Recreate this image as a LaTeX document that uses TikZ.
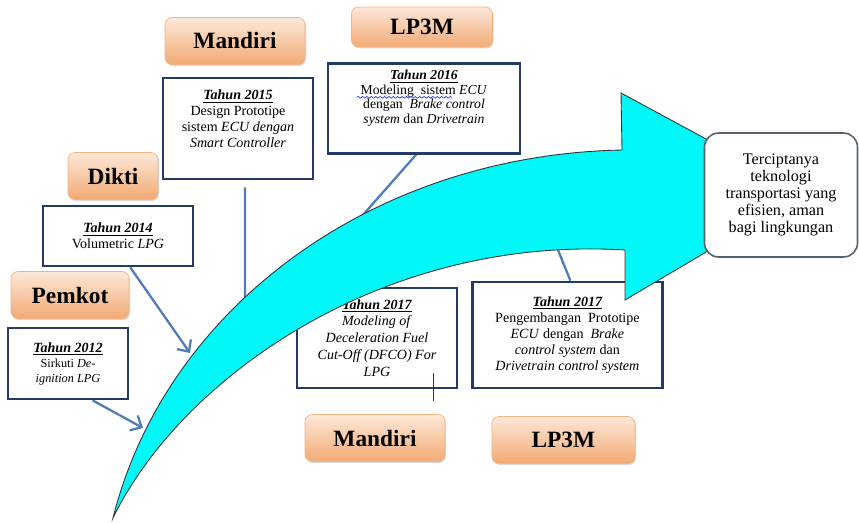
\documentclass[tikz,border=0pt]{standalone}
\usepackage{fontspec}
\setmainfont{Liberation Serif}
\usepackage{tikz}
\usetikzlibrary{positioning, calc, backgrounds, shadows, arrows.meta, decorations.pathmorphing}
\definecolor{lbl-top}{RGB}{253,232,216}
\definecolor{lbl-bot}{RGB}{242,170,116}
\definecolor{box-blue}{RGB}{36,58,104}
\definecolor{link-blue}{RGB}{79,125,185}
\definecolor{flow-cyan}{RGB}{0,248,248}
\definecolor{goal-gray}{RGB}{88,98,110}

\newcommand{\tahun}[1]{\textbf{\textit{\underline{Tahun #1}}}}

\begin{document}
\begin{tikzpicture}[
    x=0.02cm, y=-0.02cm,
    lbl/.style={rectangle, rounded corners=4pt, minimum width=2.8cm, minimum height=0.94cm, top color=lbl-top, bottom color=lbl-bot, draw=lbl-bot!90, font=\fontsize{13.3}{15}\selectfont\bfseries, drop shadow={shadow xshift=0.6pt, shadow yshift=-0.8pt, opacity=0.3}},
    yearbox/.style={rectangle, draw=box-blue, line width=1.4pt, fill=white, align=center, inner sep=2pt, font=\fontsize{8}{9.2}\selectfont},
    goal/.style={rectangle, draw=goal-gray, line width=0.9pt, rounded corners=8pt, fill=white, align=center, font=\fontsize{9.2}{9.6}\selectfont},
    link/.style={draw=link-blue, line width=1.3pt},
    flow/.style={fill=flow-cyan, draw=black!80, line width=0.5pt},
]
\useasboundingbox (0,0) rectangle (859,522);

% Sponsors and years, left part
\node[lbl, minimum width=2.36cm] (pemkot) at (70,295) {Pemkot};
\node[yearbox, minimum width=2.4cm, minimum height=1.42cm, below=0.16cm of pemkot, xshift=-0.04cm, font=\fontsize{7}{8.6}\selectfont] (d12) {{\fontsize{8}{9}\selectfont\tahun{2012}}\\ Sirkuti \textit{De-}\\ \textit{ignition LPG}};

\node[lbl, minimum width=1.8cm] (dikti) at (113,176) {Dikti};
\node[yearbox, minimum width=3cm, minimum height=1.2cm, below=0.1cm of dikti, xshift=0.1cm] (d14) {\tahun{2014}\\ Volumetric \textit{LPG}};

\node[lbl] (mandiriA) at (235,41) {Mandiri};
\node[yearbox, minimum width=3cm, minimum height=2.02cm, below=0.24cm of mandiriA, xshift=0.06cm] (d15) {\tahun{2015}\\ Design Prototipe\\ sistem \textit{ECU dengan}\\ \textit{Smart Controller}\\[2pt] \mbox{}};

\node[lbl, minimum width=2.82cm, minimum height=0.8cm] (lppmA) at (422,27) {LP3M};
\node[yearbox, minimum width=3.84cm, minimum height=1.8cm, below=0.3cm of lppmA, xshift=0.04cm, font=\fontsize{7.8}{8.4}\selectfont] (d16) {\tahun{2016}\\ Modeling\ \ sistem \textit{ECU}\\ dengan\ \ \textit{Brake control}\\ \textit{system} dan \textit{Drivetrain}\\[5pt] \mbox{}};

% Years, lower part
\node[yearbox, minimum width=3.2cm, minimum height=2cm, font=\fontsize{8}{9.6}\selectfont] (d17a) at (377,338) {\tahun{2017}\\ \textit{Modeling of}\\ \textit{Deceleration Fuel}\\ \textit{Cut-Off (DFCO) For}\\ \textit{LPG}};
\node[yearbox, minimum width=3.8cm, minimum height=2.12cm, right=0.26cm of d17a, yshift=0.06cm] (d17b) {\tahun{2017}\\ Pengembangan\ \ Prototipe\\ \textit{ECU} dengan\ \ \textit{Brake}\\ \textit{control system} dan\\ \textit{Drivetrain control system}};

\node[lbl, below=0.5cm of d17a, xshift=-0.04cm] (mandiriB) {Mandiri};
\node[lbl, minimum width=2.86cm, below=0.54cm of d17b, xshift=-0.08cm] (lppmB) {LP3M};

% Spell-check squiggle
\coordinate (sq-a) at ($(d16.north west)+(30,35)$);
\coordinate (sq-b) at ($(d16.north west)+(125,35)$);
\draw[blue!80, line width=0.4pt, decorate, decoration={snake, amplitude=0.5pt, segment length=2.5pt}] (sq-a) -- (sq-b);

% Links to the flow
\coordinate (hit12) at (143,428);
\coordinate (hit14) at (190,353);
\coordinate (hit15) at (245,300);
\coordinate (hit16) at (355,224);
\coordinate (hit17) at (556,245);
\begin{scope}[on background layer]
\draw[link, -{Straight Barb[length=1.8mm, width=3.4mm]}] ($(d12.south)!0.4!(d12.south east)$) -- (hit12);
\draw[link, -{Straight Barb[length=1.8mm, width=3.4mm]}] ($(d14.south)!0.16!(d14.south east)$) -- (hit14);
\draw[link] ($(d15.south)+(7,7)$) -- (hit15);
\draw[link] ($(d16.south)+(-8,0)$) -- (hit16);
\draw[link] ($(d17b.north)+(3,0)$) -- (hit17);
\end{scope}

% Big curved arrow
\draw[flow] (113,518) .. controls (165,310) and (370,155) .. (622,150)
    -- (621,93) -- (806,193) -- (625,300) -- (625,250)
    .. controls (380,235) and (180,380) .. (113,518) -- cycle;

% Cursor mark
\coordinate (cur-a) at ($(d17a.south east)+(-25,-16)$);
\coordinate (cur-b) at ($(d17a.south east)+(-25,12)$);
\draw[black!80, line width=0.5pt] (cur-a) -- (cur-b);

% Goal
\node[goal, minimum width=3.06cm, minimum height=2.48cm] (goal) at (781,195) {Terciptanya\\ teknologi\\ transportasi yang\\ efisien, aman\\ bagi lingkungan};

\end{tikzpicture}
\end{document}
